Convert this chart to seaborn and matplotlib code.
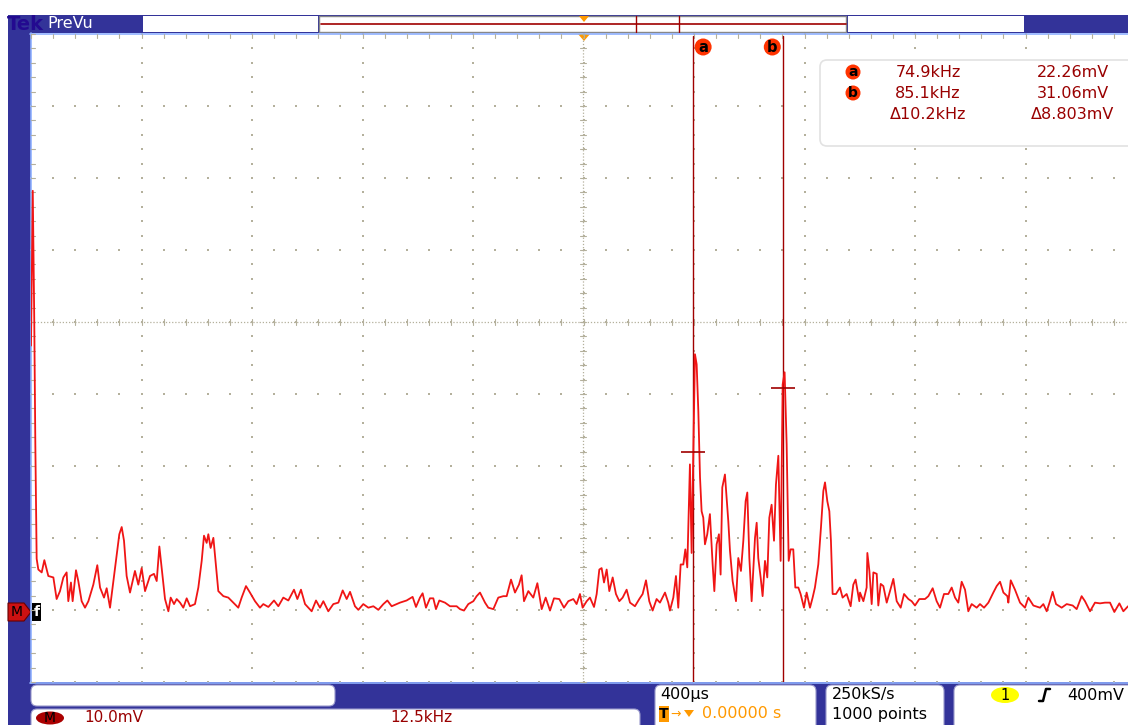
import numpy as np
import matplotlib
matplotlib.use("Agg")
import matplotlib.pyplot as plt
import seaborn as sns
from matplotlib.patches import Rectangle, FancyBboxPatch, Circle, Ellipse, Polygon

# ------------------------------------------------------------
# FFT trace (kHz, mV)
# ------------------------------------------------------------
freq_khz = [
    0.0, 0.2, 0.37, 0.49, 0.57, 0.64, 0.83, 1.21, 1.51, 1.96, 2.53, 2.90, 3.28, 3.66,
    4.03, 4.22, 4.52, 4.71, 5.09, 5.35, 5.73, 6.11, 6.49, 7.05, 7.50, 7.81, 8.26, 8.56,
    8.94, 9.50, 9.99, 10.26, 10.52, 10.82, 11.20, 11.76, 12.14, 12.52, 12.90, 13.46,
    13.91, 14.22, 14.52, 14.78, 15.16, 15.54, 15.80, 16.18, 16.48, 16.86, 17.23, 17.61,
    17.99, 18.55, 18.93, 19.31, 19.57, 19.87, 20.06, 20.32, 20.63, 20.93, 21.19, 21.76,
    22.32, 22.89, 23.45, 23.83, 24.32, 24.77, 25.34, 25.90, 26.28, 26.85, 27.49, 27.98,
    28.54, 29.11, 29.75, 30.13, 30.54, 31.00, 31.75, 32.24, 32.69, 33.07, 33.63, 34.20,
    34.77, 35.26, 35.71, 36.09, 36.65, 37.03, 37.59, 38.16, 38.73, 39.29, 39.86, 40.31,
    40.80, 41.37,
    41.74, 42.49, 43.17, 43.55, 44.00, 44.30, 44.68, 45.13, 45.51, 45.81, 46.19, 46.83,
    47.40, 48.15, 48.53, 48.98, 49.47, 50.04, 50.41, 50.79, 51.36, 51.73, 52.30, 52.86,
    53.43, 53.81, 54.30, 54.75, 55.20, 55.50, 55.77, 56.26, 56.82, 57.28, 57.77, 58.22,
    58.71, 59.16, 59.76, 60.29, 60.78, 61.35, 61.72, 62.10, 62.40, 62.86, 63.23, 63.69,
    63.99, 64.29, 64.55, 64.82, 65.12, 65.42, 65.80, 66.17, 66.55, 66.93, 67.38, 67.76,
    68.32, 68.81, 69.19, 69.57, 69.94, 70.32, 70.77,
    71.15, 71.72, 72.09, 72.28, 72.66, 72.96, 73.22, 73.49, 73.79, 74.02, 74.24, 74.54,
    74.73, 74.92, 75.11, 75.30, 75.49, 75.68, 75.86, 76.05, 76.24, 76.50, 76.80, 77.11,
    77.30, 77.56, 77.82, 78.01, 78.20, 78.50, 78.69, 78.88, 79.07, 79.37, 79.75, 80.01,
    80.31, 80.58, 80.84, 81.03, 81.26, 81.52, 81.90, 82.09, 82.27, 82.54, 82.76, 83.03,
    83.29, 83.52, 83.78, 84.05, 84.27, 84.54, 84.80, 85.03, 85.25, 85.48, 85.71, 85.93,
    86.23, 86.46, 86.80, 87.06, 87.44, 87.74, 88.12, 88.42, 88.68, 89.06, 89.36, 89.63,
    89.82, 90.08, 90.31, 90.49, 90.68, 91.06, 91.51, 91.81, 92.27, 92.72, 93.02, 93.28,
    93.70,
    93.78, 94.16, 94.53, 94.61, 94.84, 95.10, 95.29, 95.67, 95.85, 96.12, 96.42, 96.80,
    97.17, 97.55, 97.93, 98.38, 98.76, 99.25, 99.62, 100.00, 100.49, 101.13, 101.51,
    102.00, 102.45, 102.83, 103.28, 103.77, 104.15, 104.53, 104.90, 105.28, 105.66,
    106.03, 106.41, 106.98, 107.35, 107.81, 108.30, 108.86, 109.24, 109.62, 110.00,
    110.45, 110.56, 110.83, 111.31, 111.88, 112.44, 112.82, 113.39, 114.14, 114.52,
    114.90, 115.27, 115.57, 115.95, 116.59, 117.16, 117.84, 118.29, 118.85, 119.23,
    119.80, 120.36, 120.93, 121.49, 122.06, 122.55, 123.12, 123.57, 124.10,
]
level_mv = [
    37.0, 58.5, 40.4, 23.3, 14.4, 7.4, 5.9, 5.5, 7.2, 5.0, 4.8, 1.8, 2.9, 4.8,
    5.5, 1.5, 4.1, 1.5, 5.8, 4.3, 1.5, 0.6, 1.5, 3.8, 6.5, 3.4, 2.0, 3.3,
    0.6, 6.1, 10.8, 11.8, 9.9, 5.0, 2.7, 5.7, 3.8, 6.1, 2.9, 5.0,
    5.3, 4.3, 9.1, 6.1, 1.8, 0.1, 2.0, 1.1, 1.8, 1.3, 0.6, 1.9,
    0.8, 1.1, 3.4, 7.1, 10.6, 9.6, 10.8, 8.9, 10.3, 6.3, 2.9, 2.2,
    2.0, 1.3, 0.6, 2.0, 3.6, 2.7, 1.5, 0.6, 1.1, 0.7, 1.6, 0.8,
    2.0, 1.6, 3.1, 1.8, 3.1, 1.1, 0.1, 1.6, 0.6, 1.5, 0.1, 1.1,
    1.3, 3.0, 1.8, 2.8, 0.8, 0.3, 1.1, 0.6, 0.8, 0.3, 1.1, 1.6,
    0.8, 1.1,
    1.3, 1.6, 2.1, 0.7, 2.0, 2.6, 0.6, 1.9, 1.9, 0.4, 1.6, 1.3,
    0.8, 0.8, 0.4, 0.2, 1.1, 1.5, 2.2, 2.7, 1.3, 0.6, 0.4, 2.0,
    2.2, 2.2, 4.5, 2.7, 3.8, 5.1, 1.5, 2.9, 2.0, 4.0, 0.4, 2.0,
    0.2, 1.9, 1.8, 0.6, 1.5, 1.8, 1.1, 2.5, 0.6, 1.5, 2.0, 0.7,
    2.5, 5.9, 6.1, 4.1, 5.9, 2.9, 4.8, 2.5, 1.5, 2.0, 3.1, 1.3,
    0.8, 1.8, 2.5, 4.4, 1.5, 0.2, 1.8,
    1.3, 2.7, 1.3, 0.2, 2.0, 5.0, 0.6, 6.6, 6.6, 8.7, 6.2, 20.5,
    8.2, 21.9, 35.8, 34.4, 27.9, 18.7, 14.0, 13.1, 9.4, 10.8, 13.6, 6.6,
    2.9, 9.4, 10.8, 5.2, 17.3, 19.1, 15.9, 12.6, 8.5, 4.3, 1.5, 7.5,
    5.7, 9.9, 15.4, 16.6, 7.5, 1.5, 10.3, 12.4, 7.5, 4.8, 2.2, 7.1,
    4.8, 13.1, 14.9, 9.9, 17.7, 21.7, 7.1, 31.6, 33.3, 23.3, 7.1, 8.7,
    8.7, 3.4, 3.4, 2.5, 0.6, 2.7, 0.6, 2.0, 3.4, 6.6, 11.7, 16.8,
    18.0, 15.4, 14.0, 9.9, 2.5, 2.5, 3.4, 2.0, 2.5, 0.8, 3.8, 4.5,
    1.5,
    2.7, 1.5, 3.4, 8.2, 5.7, 1.1, 5.5, 5.3, 0.9, 3.9, 3.6, 1.3,
    2.9, 4.6, 1.5, 0.6, 2.5, 1.8, 1.5, 0.9, 1.8, 1.8, 2.2,
    3.3, 1.5, 0.6, 2.5, 2.5, 3.4, 2.0, 1.3, 4.2, 3.1,
    0.1, 1.1, 0.6, 1.1, 0.6, 1.3, 2.7, 3.6, 4.2, 2.7,
    2.2, 1.3, 4.4, 3.1, 1.3, 0.6, 2.0, 0.9, 0.6, 1.1,
    0.1, 1.5, 2.8, 1.1, 0.6, 1.1, 0.9, 0.4, 2.2, 1.5,
    0.1, 1.3, 1.2, 1.3, 1.3, 0.0, 1.2, 0.1, 0.8,
]

# cursors and readout
cursor_names = ["a", "b"]
cursor_khz = [74.9, 85.1]
cursor_mv = [22.26, 31.06]
readout_freq = ["74.9kHz", "85.1kHz", "\u039410.2kHz"]
readout_level = ["22.26mV", "31.06mV", "\u03948.803mV"]

# scope settings shown on the status bar
math_scale = "10.0mV"
math_span = "12.5kHz"
time_scale = "400\u00b5s"
trig_pos = "0.00000 s"
sample_rate = "250kS/s"
record_len = "1000 points"
trig_level = "400mV"

# ------------------------------------------------------------
# colours
# ------------------------------------------------------------
BLUE = "#333399"
TRACE = "#f01515"
CURSOR = "#a00000"
TXT_RED = "#990000"
ORANGE = "#ff9900"
DOT = "#b4b09c"

W, H = 1128, 725
sns.set_style("white")
fig = plt.figure(figsize=(W / 100, H / 100), dpi=100)
fig.patch.set_facecolor("white")

# background axes in screen pixels for the scope chrome
bg = fig.add_axes([0, 0, 1, 1])
bg.set_xlim(0, W)
bg.set_ylim(H, 0)
bg.axis("off")

# blue frame
bg.add_patch(Rectangle((8, 15), W - 8, 18, fc=BLUE, ec="none"))
bg.add_patch(Rectangle((8, 15), 23, H - 15, fc=BLUE, ec="none"))
bg.add_patch(Rectangle((8, 682), W - 8, 43, fc=BLUE, ec="none"))

# top bar
bg.text(7, 24, "Tek", color="#230a90", fontsize=14, fontweight="bold", va="center")
bg.text(47, 23.5, "PreVu", color="white", fontsize=11.5, va="center")
bg.add_patch(Rectangle((143, 16), 175, 16, fc="white", ec="none"))
bg.add_patch(Rectangle((319, 16), 527, 16, fc="white", ec="#888888", lw=1))
bg.add_patch(Rectangle((848, 16), 176, 16, fc="white", ec="none"))
bg.plot([321, 846], [24, 24], color=CURSOR, lw=1.2)
bg.plot([636, 636], [16, 32], color=CURSOR, lw=1)
bg.plot([679, 679], [16, 32], color=CURSOR, lw=1)
bg.add_patch(Polygon([[579, 16], [589, 16], [584, 22]], fc=ORANGE, ec="none"))

# graticule border
bg.plot([30.5, 30.5], [33, 683], color="#8fb0ff", lw=1.2)
bg.plot([30, W], [33.5, 33.5], color="#8fb0ff", lw=1.2)
bg.plot([30, W], [682.5, 682.5], color="#8fb0ff", lw=1.2)

# graticule dots
gx0, gy0, dx, dy = 31, 34, 110.5, 72
minor_y = gy0 + np.arange(46) * dy / 5
minor_x = gx0 + np.arange(51) * dx / 5
minor_x = minor_x[minor_x < W]
for i in range(1, 11):
    x = gx0 + i * dx
    if x < W:
        bg.scatter(np.full(len(minor_y), x), minor_y, s=1.5, c=DOT, marker="s", lw=0)
for k in range(1, 10):
    y = gy0 + k * dy
    bg.scatter(minor_x, np.full(len(minor_x), y), s=1.5, c=DOT, marker="s", lw=0)
# centre cross, dotted with ticks
cx, cy = 583, 322
bg.plot([cx, cx], [34, 682], color=DOT, lw=0.9, ls=(0, (1, 1.5)))
bg.plot([31, W], [cy, cy], color=DOT, lw=0.9, ls=(0, (1, 1.5)))
for y in minor_y:
    bg.plot([cx - 3, cx + 3], [y, y], color=DOT, lw=0.8)
    bg.plot([31, 35], [y, y], color=DOT, lw=0.8)
for x in minor_x:
    bg.plot([x, x], [cy - 3, cy + 3], color=DOT, lw=0.8)
    bg.plot([x, x], [34, 38], color=DOT, lw=0.8)

# trigger position marker
bg.add_patch(Polygon([[578, 34], [590, 34], [584, 41]], fc=ORANGE, ec="none"))

# math ground marker and f label
bg.add_patch(Polygon([[8, 603], [24, 603], [31, 612], [24, 621], [8, 621]], fc="#cc1111", ec="#660000", lw=0.8))
bg.text(17, 612.5, "M", color="black", fontsize=10, ha="center", va="center")
bg.add_patch(Rectangle((32, 603), 9, 18, fc="black", ec="none"))
bg.text(36.5, 612, "f", color="white", fontsize=10, ha="center", va="center", fontweight="bold")

# cursor readout box
bg.add_patch(FancyBboxPatch((820, 60), 340, 86, boxstyle="round,pad=0,rounding_size=7",
                            fc="white", ec="#e2e2e2", lw=1.2))
for row, (ftxt, ltxt) in enumerate(zip(readout_freq, readout_level)):
    yy = 72 + row * 21
    if row < len(cursor_names):
        bg.add_patch(Circle((853, yy), 7.5, fc="#ff3300", ec="none"))
        bg.text(853, yy, cursor_names[row], color="black", fontsize=10, fontweight="bold",
                ha="center", va="center")
    bg.text(928, yy, ftxt, color=TXT_RED, fontsize=11.5, ha="center", va="center")
    bg.text(1073, yy, ltxt, color=TXT_RED, fontsize=11.5, ha="center", va="center")

# bottom status boxes
def rbox(x, y, w, h):
    bg.add_patch(FancyBboxPatch((x, y), w, h, boxstyle="round,pad=0,rounding_size=6",
                                fc="white", ec="#9999cc", lw=0.8))

rbox(31, 685, 304, 21)
rbox(31, 709, 609, 30)
rbox(655, 685, 161, 50)
rbox(826, 685, 118, 50)
rbox(954, 685, 190, 50)

# bottom row sits on the screen edge; kept just inside it
bg.add_patch(Ellipse((50, 718), 28, 13, fc="#aa0000", ec="none"))
bg.text(50, 718, "M", color="black", fontsize=10, ha="center", va="center")
bg.text(84, 718, math_scale, color=TXT_RED, fontsize=11, va="center")
bg.text(390, 718, math_span, color=TXT_RED, fontsize=11, va="center")

bg.text(660, 695, time_scale, color="black", fontsize=11.5, va="center")
bg.add_patch(Rectangle((659, 706), 10, 16, fc=ORANGE, ec="none"))
bg.text(664, 714, "T", color="black", fontsize=10, ha="center", va="center", fontweight="bold")
bg.text(670, 714, "\u2192", color=ORANGE, fontsize=9, va="center")
bg.add_patch(Polygon([[684, 710], [694, 710], [689, 717]], fc=ORANGE, ec="none"))
bg.text(702, 714, trig_pos, color=ORANGE, fontsize=11.5, va="center")

bg.text(832, 695, sample_rate, color="black", fontsize=11.5, va="center")
bg.text(832, 714, record_len, color="black", fontsize=11.5, va="center")

bg.add_patch(Ellipse((1005, 695), 28, 16, fc="#ffff00", ec="none"))
bg.text(1005, 695.5, "1", color="black", fontsize=10.5, ha="center", va="center")
bg.plot([1039, 1043, 1046, 1050], [701, 701, 689, 689], color="black", lw=1.8)
bg.text(1067, 695, trig_level, color="black", fontsize=11.5, va="center")

# ------------------------------------------------------------
# data axes: spectrum trace and cursors
# ------------------------------------------------------------
ax = fig.add_axes([31 / W, (H - 682) / H, (W - 31) / W, 649 / H])
ax.patch.set_alpha(0)
ax.set_xlim(0, (W - 31) / 8.84)
ax.set_ylim((612 - 682) / 7.2, (612 - 33) / 7.2)
ax.axis("off")

for xc in cursor_khz:
    ax.axvline(xc, ymin=0, ymax=0.995, color=CURSOR, lw=1)

sns.lineplot(x=freq_khz, y=level_mv, ax=ax, estimator=None, sort=False,
             color=TRACE, lw=1.3)

ax.plot(cursor_khz, cursor_mv, ls="none", marker="_", ms=17, mew=1.2, color=CURSOR)

# cursor name bubbles at top of graticule
for name, xc, off in zip(cursor_names, cursor_khz, [10, -11]):
    xp = 31 + xc * 8.84 + off
    bg.add_patch(Circle((xp, 47), 8.5, fc="#ff3300", ec="none", zorder=5))
    bg.text(xp, 47, name, color="black", fontsize=10.5, fontweight="bold",
            ha="center", va="center", zorder=6)

fig.savefig("out.png", dpi=100)
